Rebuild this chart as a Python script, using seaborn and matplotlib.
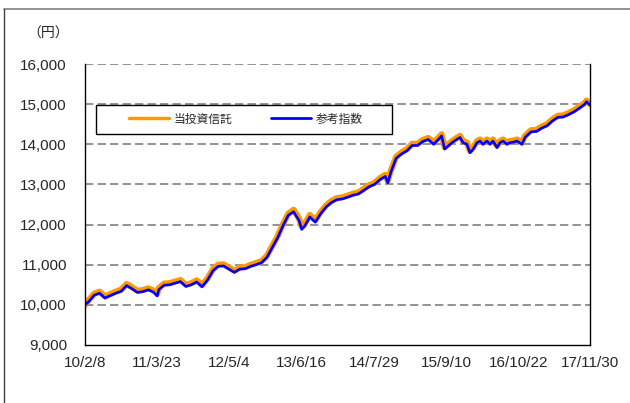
import pandas as pd
import matplotlib.pyplot as plt
import seaborn as sns
from matplotlib.lines import Line2D
from matplotlib.patches import Rectangle

sns.set_style("white")
plt.rcParams['font.family'] = ['Liberation Sans', 'Noto Sans CJK JP', 'DejaVu Sans']

# データ（チャートから読み取った値）
dates = [
    "2010-02-08", "2010-03-01", "2010-04-01", "2010-05-01", "2010-06-01", "2010-07-01",
    "2010-08-01", "2010-09-01", "2010-10-01", "2010-11-01", "2010-12-01", "2011-01-01",
    "2011-02-01", "2011-03-01", "2011-03-23", "2011-04-01", "2011-05-01", "2011-06-01",
    "2011-07-01", "2011-08-01", "2011-09-01", "2011-10-01", "2011-11-01", "2011-12-01",
    "2012-01-01", "2012-02-01", "2012-03-01", "2012-04-01", "2012-05-01", "2012-06-01",
    "2012-07-01", "2012-08-01", "2012-09-01", "2012-10-01", "2012-11-01", "2012-12-01",
    "2013-01-01", "2013-02-01", "2013-03-01", "2013-04-01", "2013-05-01", "2013-06-01",
    "2013-06-16", "2013-07-01", "2013-08-01", "2013-09-01", "2013-10-01", "2013-11-01",
    "2013-12-01", "2014-01-01", "2014-02-01", "2014-03-01", "2014-04-01", "2014-05-01",
    "2014-06-01", "2014-07-01", "2014-08-01", "2014-09-01", "2014-10-01", "2014-10-15",
    "2014-11-01", "2014-12-01", "2015-01-01", "2015-02-01", "2015-03-01", "2015-04-01",
    "2015-05-01", "2015-06-01", "2015-07-01", "2015-08-01", "2015-08-15", "2015-09-01",
    "2015-10-13", "2015-11-10", "2015-11-27", "2015-12-14", "2016-01-05", "2016-01-22",
    "2016-02-08", "2016-03-02", "2016-03-19", "2016-04-05", "2016-04-27", "2016-05-14",
    "2016-05-31", "2016-06-23", "2016-07-10", "2016-07-27", "2016-08-18", "2016-09-04",
    "2016-09-21", "2016-10-14", "2016-11-11", "2016-11-28",
    "2017-01-01", "2017-02-01", "2017-03-01",
    "2017-04-01", "2017-05-01", "2017-06-01", "2017-07-01", "2017-08-01", "2017-09-01",
    "2017-10-01", "2017-11-01", "2017-11-10", "2017-11-30",
]

fund = [
    10000, 10120, 10280, 10330, 10210, 10270, 10330, 10380, 10520, 10440, 10350, 10370,
    10410, 10360, 10280, 10420, 10530, 10540, 10580, 10620, 10500, 10540, 10610, 10490,
    10660, 10890, 11000, 11010, 10930, 10850, 10930, 10940, 11000, 11040, 11090, 11220,
    11470, 11720, 12000, 12270, 12370, 12150, 11950, 12000, 12240, 12110, 12310, 12480,
    12590, 12660, 12680, 12720, 12770, 12800, 12890, 12980, 13040, 13160, 13240, 13090,
    13340, 13690, 13800, 13880, 14010, 14010, 14110, 14160, 14050, 14180, 14250, 13930,
    14080, 14165, 14210, 14080, 14040, 13830, 13910, 14080, 14120, 14040, 14120, 14040,
    14120, 13960, 14080, 14120, 14040, 14080, 14090, 14120, 14040, 14210,
    14350, 14360, 14440,
    14500, 14620, 14710, 14720, 14780, 14850, 14940, 15030, 15090, 15000,
]

index = [
    10000, 10080, 10240, 10290, 10170, 10230, 10290, 10340, 10480, 10400, 10310, 10330,
    10375, 10320, 10220, 10380, 10490, 10500, 10540, 10580, 10460, 10500, 10570, 10450,
    10620, 10850, 10960, 10970, 10890, 10810, 10890, 10900, 10960, 11000, 11050, 11180,
    11430, 11680, 11960, 12230, 12320, 12100, 11880, 11950, 12190, 12060, 12270, 12440,
    12550, 12620, 12640, 12680, 12730, 12760, 12850, 12940, 13000, 13120, 13200, 13040,
    13300, 13650, 13760, 13840, 13970, 13970, 14070, 14120, 14000, 14140, 14210, 13880,
    14040, 14125, 14170, 14040, 14000, 13790, 13870, 14040, 14080, 14000, 14080, 14000,
    14080, 13920, 14040, 14080, 14000, 14040, 14050, 14080, 14000, 14170,
    14310, 14320, 14400,
    14460, 14580, 14670, 14680, 14740, 14810, 14900, 15000, 15060, 14980,
]

tick_dates = ["2010-02-08", "2011-03-23", "2012-05-04", "2013-06-16",
              "2014-07-29", "2015-09-10", "2016-10-22", "2017-11-30"]
tick_labels = ["10/2/8", "11/3/23", "12/5/4", "13/6/16",
               "14/7/29", "15/9/10", "16/10/22", "17/11/30"]
y_ticks = [9000, 10000, 11000, 12000, 13000, 14000, 15000, 16000]

df = pd.DataFrame({"date": pd.to_datetime(dates), "fund": fund, "index": index})

fig = plt.figure(figsize=(6.3, 4.03), dpi=100)
ax = fig.add_axes([85 / 630, 1 - 345 / 403, 505 / 630, 281 / 403])

sns.lineplot(data=df, x="date", y="fund", ax=ax, color="#FF9900", linewidth=4.4)
sns.lineplot(data=df, x="date", y="index", ax=ax, color="#0000FF", linewidth=1.9)

ax.set_xlim(pd.Timestamp("2010-02-08"), pd.Timestamp("2017-11-30"))
ax.set_ylim(9000, 16000)
ax.set_xticks(pd.to_datetime(tick_dates))
ax.set_xticklabels(tick_labels, fontsize=11)
ax.set_yticks(y_ticks)
ax.set_yticklabels([f"{v:,}" for v in y_ticks], fontsize=11)
ax.tick_params(axis="y", length=0, pad=13)
ax.tick_params(axis="x", length=0, pad=8)
ax.set_xlabel("")
ax.set_ylabel("")

# 破線グリッド
for v in y_ticks[1:]:
    ax.axhline(v, color="#808080", linewidth=1.2, linestyle=(0, (5, 2.5)), zorder=0)

for s in ["left", "bottom", "right"]:
    ax.spines[s].set_color("black")
    ax.spines[s].set_linewidth(1.0)
ax.spines["top"].set_visible(False)

# 凡例
fig.patches.append(Rectangle((96 / 630, 1 - 134 / 403), 296 / 630, 29 / 403,
                             transform=fig.transFigure, facecolor="white",
                             edgecolor="black", linewidth=1.0, zorder=5))
handles = [Line2D([], [], color="#FF9900", linewidth=2.5),
           Line2D([], [], color="#0000FF", linewidth=2.0)]
fig.legend(handles, ["当投資信託", "参考指数"], loc="center",
           bbox_to_anchor=(246 / 630, 1 - 119.5 / 403), ncol=2, frameon=False,
           fontsize=8.5, handlelength=3.4, handletextpad=0.4, columnspacing=3.3)

fig.text(27 / 630, 1 - 34 / 403, "（円）", fontsize=10, va="center", ha="left",
         family=["Noto Sans CJK JP"])

# 外枠
fig.add_artist(Line2D([4 / 630, 1.0], [1 - 9 / 403, 1 - 9 / 403],
                      transform=fig.transFigure, color="#808080", linewidth=1.2))
fig.add_artist(Line2D([4 / 630, 4 / 630], [1 - 9 / 403, 0.0],
                      transform=fig.transFigure, color="#404040", linewidth=1.0))

fig.savefig("out.png", dpi=100)
